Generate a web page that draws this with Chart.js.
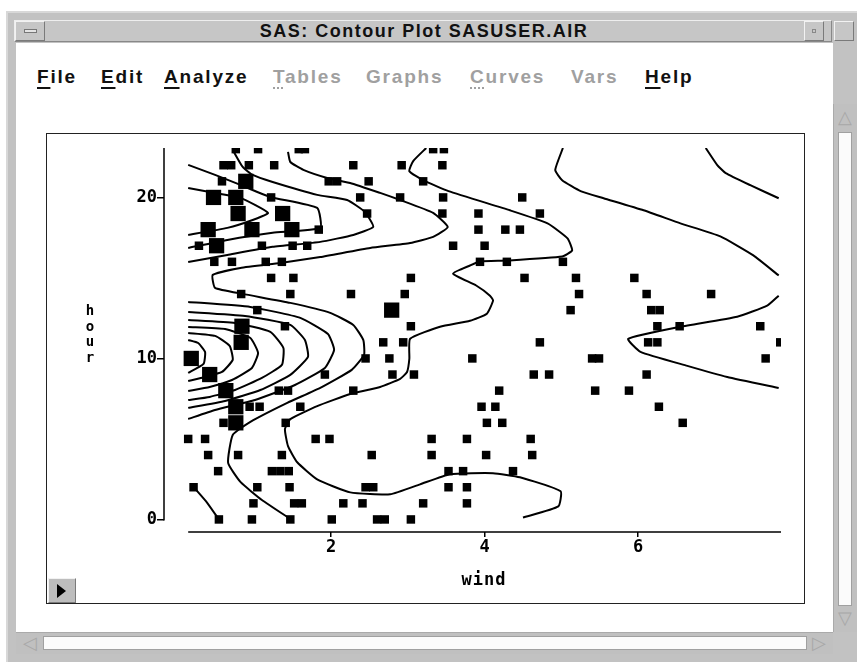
<!DOCTYPE html>
<html>
<head>
<meta charset="utf-8">
<script src="https://cdn.jsdelivr.net/npm/chart.js@4.4.1/dist/chart.umd.min.js"></script>
<style>
  body { margin: 0; width: 857px; height: 662px; position: relative; overflow: hidden; background: #fff;
         font-family: "Liberation Sans", Arial, sans-serif; }
  .abs { position: absolute; box-sizing: border-box; }
  #frame { left: 6px; top: 11px; width: 851px; height: 651px; background: #c2c2c2; border-top: 2px solid #d8d8d8; border-left: 2px solid #d8d8d8; }
  #titlebar { left: 14px; top: 20px; width: 818px; height: 22px; background: #c6c6c6;
              border-top: 1px solid #eee; border-left: 1px solid #eee; border-bottom: 1px solid #888; border-right: 1px solid #888; }
  #title { left: 46px; top: 21px; width: 756px; height: 20px; text-align: center; font-size: 18px; font-weight: bold;
           line-height: 20px; color: #111; letter-spacing: 1.5px; }
  .btn { background: #c6c6c6; border-top: 1px solid #f2f2f2; border-left: 1px solid #f2f2f2; border-bottom: 1px solid #7a7a7a; border-right: 1px solid #7a7a7a; }
  #client { left: 16px; top: 43px; width: 817px; height: 589px; background: #fff; }
  .menu { top: 66px; font-size: 19px; font-weight: bold; line-height: 22px; color: #111; letter-spacing: 1.8px; }
  .menu.off { color: #a0a0a0; }
  .menu u { text-decoration-thickness: 2px; text-underline-offset: 4px; }
  .menu.off u { text-decoration-style: dotted; }
  #plotframe { left: 46px; top: 133px; width: 759px; height: 471px; border: 1px solid #222; background: #fff; }
  #chart { left: 47px; top: 134px; }
  .axt { font-family: "DejaVu Sans Mono", monospace; font-weight: bold; color: #000; text-align: center; }
  .arrow { color: #a8a8a8; font-size: 18px; line-height: 20px; text-align: center; }
</style>
</head>
<body>
<div class="abs" id="frame"></div>
<div class="abs" id="titlebar"></div>
<div class="abs btn" style="left:15px;top:21px;width:30px;height:20px;"></div>
<div class="abs" style="left:24px;top:29px;width:13px;height:4px;border:1px solid #777;background:#e4e4e4;"></div>
<div class="abs" id="title">SAS: Contour Plot SASUSER.AIR</div>
<div class="abs btn" style="left:804px;top:21px;width:20px;height:20px;"></div>
<div class="abs" style="left:812px;top:29px;width:4px;height:4px;border:1px solid #888;"></div>
<div class="abs btn" style="left:834px;top:21px;width:20px;height:20px;"></div>

<div class="abs" id="client"></div>
<div class="abs menu" style="left:37px;"><u>F</u>ile</div>
<div class="abs menu" style="left:101px;"><u>E</u>dit</div>
<div class="abs menu" style="left:164px;"><u>A</u>nalyze</div>
<div class="abs menu off" style="left:273px;"><u>T</u>ables</div>
<div class="abs menu off" style="left:366px;">Graphs</div>
<div class="abs menu off" style="left:470px;"><u>C</u>urves</div>
<div class="abs menu off" style="left:571px;">Vars</div>
<div class="abs menu" style="left:645px;"><u>H</u>elp</div>

<!-- vertical scrollbar -->
<div class="abs" style="left:833px;top:104px;width:24px;height:528px;background:#c0c0c0;border-left:1px solid #aaa;"></div>
<div class="abs" style="left:838px;top:132px;width:14px;height:474px;background:#fbfbfb;border:1px solid #a0a0a0;"></div>
<div class="abs arrow" style="left:835px;top:107px;width:20px;">&#9651;</div>
<div class="abs arrow" style="left:835px;top:608px;width:20px;">&#9661;</div>
<!-- horizontal scrollbar -->
<div class="abs" style="left:16px;top:632px;width:817px;height:22px;background:#c0c0c0;border-top:1px solid #aaa;"></div>
<div class="abs" style="left:43px;top:636px;width:764px;height:14px;background:#fbfbfb;border:1px solid #a0a0a0;"></div>
<div class="abs arrow" style="left:20px;top:633px;width:20px;">&#9665;</div>
<div class="abs arrow" style="left:809px;top:633px;width:20px;">&#9655;</div>

<div class="abs" id="plotframe"></div>
<canvas class="abs" id="chart" width="757" height="469"></canvas>
<div class="abs btn" style="left:48px;top:578px;width:28px;height:25px;background:#bdbdbd;"></div>
<div class="abs" style="left:57px;top:584px;width:0;height:0;border-top:7px solid transparent;border-bottom:7px solid transparent;border-left:9px solid #000;"></div>

<div class="abs axt" style="left:80px;top:303px;width:20px;font-size:14px;line-height:15.5px;">h<br>o<br>u<br>r</div>
<div class="abs axt" style="left:444px;top:568px;width:80px;font-size:17px;line-height:22px;letter-spacing:1px;">wind</div>

<script>
// axis ranges and ticks
const windRange = [-0.175, 7.86];
const hourRange = [-0.78, 23.07];
const windTicks = [2, 4, 6];
const hourTicks = [0, 10, 20];

// small squares: [hour, winds]
const smallRows = [
  [23, [0.76, 1.05, 1.58, 1.66, 3.33, 3.47]],
  [22, [0.60, 0.70, 0.93, 1.26, 2.29, 2.92, 3.45]],
  [21, [0.58, 1.97, 2.08, 2.49, 3.20]],
  [20, [1.22, 2.38, 2.90, 3.46, 4.49]],
  [19, [2.47, 3.45, 3.92, 4.72]],
  [18, [1.84, 3.92, 4.27, 4.46]],
  [17, [0.28, 1.10, 1.50, 1.69, 3.59, 4.00]],
  [16, [0.48, 0.71, 1.15, 1.36, 3.94, 4.29, 5.02]],
  [15, [1.22, 1.51, 3.04, 4.52, 5.19, 5.95]],
  [14, [0.83, 1.47, 2.26, 2.96, 5.23, 6.11, 6.95]],
  [13, [1.04, 5.12, 6.17, 6.28]],
  [12, [1.40, 3.04, 6.25, 6.54, 7.59]],
  [11, [2.68, 2.94, 4.72, 6.13, 6.25, 7.85]],
  [10, [2.45, 2.76, 3.84, 5.40, 5.49, 7.66]],
  [9, [1.92, 2.80, 3.08, 4.64, 4.84, 6.11]],
  [8, [1.32, 1.44, 2.29, 4.19, 5.44, 5.88]],
  [7, [0.94, 1.07, 1.60, 3.96, 4.14, 6.27]],
  [6, [0.60, 1.41, 4.03, 4.23, 6.58]],
  [5, [0.14, 0.36, 1.80, 1.98, 3.31, 3.77, 4.60]],
  [4, [0.40, 0.79, 1.36, 2.53, 3.31, 4.02, 4.62]],
  [3, [0.53, 1.23, 1.34, 1.45, 3.53, 3.72, 4.37]],
  [2, [0.21, 1.04, 1.46, 2.45, 2.55, 3.53, 3.77]],
  [1, [0.99, 1.52, 1.62, 2.16, 2.41, 3.20, 3.77]],
  [0, [0.54, 0.97, 1.47, 2.01, 2.60, 2.70, 3.04]]
];

// big squares: [hour, winds]
const bigRows = [
  [21, [0.89]],
  [20, [0.47, 0.76]],
  [19, [0.79, 1.37]],
  [18, [0.40, 0.97, 1.49]],
  [17, [0.51]],
  [13, [2.79]],
  [12, [0.84]],
  [11, [0.83]],
  [10, [0.18]],
  [9, [0.42]],
  [8, [0.63]],
  [7, [0.76]],
  [6, [0.76]]
];

// contour lines [wind, hour]
const lineA = [[1.44,22.83],[1.47,22.20],[1.64,21.71],[1.95,21.21],[2.25,20.90],[2.64,20.28],[2.90,19.84],[3.33,19.04],[3.52,18.17],[3.33,17.55],[3.03,17.17],[2.51,16.86],[1.86,16.30],[1.34,15.93],[0.82,15.62],[0.46,15.19],[0.49,14.38],[0.85,14.01],[1.47,13.45],[1.99,12.83],[2.29,12.08],[2.42,11.15],[2.43,10.22],[2.27,9.29],[1.86,8.17],[1.43,7.24],[0.95,6.06],[0.72,5.25],[0.66,3.51],[0.82,2.33],[1.10,1.21],[1.48,0]];
const lineB = [[0.72,22.95],[0.85,21.89],[0.98,21.40],[1.24,20.96],[1.82,20.16],[2.21,19.84],[2.44,19.10],[2.55,18.17],[2.29,17.67],[1.86,17.24],[1.24,16.93],[0.65,16.43],[0.14,15.99]];
const lineU1 = [[0.14,22.02],[0.49,21.40],[0.82,20.78],[1.21,20.03],[1.82,19.35],[1.86,18.11],[1.24,17.80],[0.65,17.36],[0.14,16.86]];
const lineU2 = [[0.14,20.59],[0.42,20.34],[0.82,19.97],[1.18,19.04],[0.98,18.60],[0.65,18.11],[0.14,17.67]];
const lineC = [[3.24,23.07],[3.07,22.26],[3.02,21.63],[3.20,21.07],[3.53,20.39],[4.33,19.20],[4.82,18.39],[5.08,17.46],[5.14,16.71],[5.01,16.33],[4.29,16.08],[3.94,16.02],[3.81,15.77],[3.59,15.27],[3.89,14.53],[4.07,13.90],[4.11,13.59],[4.03,12.78],[3.81,12.34],[3.42,11.97],[3.03,11.22],[3.02,9.98],[2.99,9.16],[2.90,8.73],[2.64,8.23],[2.25,7.79],[1.82,7.04],[1.47,6.23],[1.40,5.61],[1.44,4.55],[1.56,3.55],[1.82,2.49],[2.25,1.68],[2.77,1.56],[3.16,2.18],[3.55,2.81],[4.11,2.87],[4.46,2.62],[4.99,1.75],[4.96,0.81],[4.50,0.12]];
const lineR1 = [[5.02,23.07],[4.92,21.70],[5.01,21.07],[5.25,20.39],[5.55,19.95],[6.07,19.20],[6.55,18.39],[7.07,17.58],[7.50,16.40],[7.83,15.15]];
const lineR2 = [[7.83,13.90],[7.68,13.28],[7.29,12.59],[6.55,11.97],[5.87,11.22],[6.03,10.41],[6.64,9.54],[7.16,8.85],[7.83,8.17]];
const lineTR = [[6.88,23.07],[7.03,22.01],[7.14,21.51],[7.46,20.76],[7.83,19.95]];
const lineN1 = [[0.14,11.15],[0.27,10.96],[0.36,10.40],[0.34,9.66],[0.14,9.10]];
const lineN2 = [[0.14,11.58],[0.49,11.40],[0.68,10.78],[0.72,9.91],[0.58,9.16],[0.36,8.85],[0.14,8.60]];
const lineN3 = [[0.14,11.96],[0.62,11.83],[0.95,11.27],[1.05,10.34],[0.97,9.41],[0.71,8.66],[0.42,8.23],[0.14,7.98]];
const lineN4 = [[0.14,12.39],[0.75,12.20],[1.21,11.65],[1.38,10.65],[1.36,9.60],[1.10,8.79],[0.75,8.04],[0.42,7.61],[0.14,7.42]];
const lineN5 = [[0.14,12.89],[0.88,12.64],[1.47,12.08],[1.66,11.15],[1.70,10.09],[1.47,8.98],[1.08,8.04],[0.62,7.36],[0.14,6.93]];
const lineN6 = [[0.14,13.51],[0.95,13.20],[1.60,12.52],[1.96,11.52],[2.04,10.53],[1.92,9.41],[1.53,8.35],[1.01,7.42],[0.49,6.80],[0.14,6.24]];
const lineLow = [[0.22,1.96],[0.39,1.02],[0.54,0]];

const contours = [lineA, lineB, lineU1, lineU2, lineC, lineR1, lineR2, lineTR,
                  lineN1, lineN2, lineN3, lineN4, lineN5, lineN6, lineLow];

const toPts = rows => rows.flatMap(([h, ws]) => ws.map(w => ({x: w, y: h})));
const allWinds = smallRows.concat(bigRows).flatMap(r => r[1]);
const windMin = Math.min(...allWinds);

const datasets = contours.map(c => ({
  type: 'scatter',
  data: c.map(([w, h]) => ({x: w, y: h})),
  showLine: true,
  borderColor: '#000',
  borderWidth: 2,
  pointRadius: 0,
  tension: 0.15,
  fill: false
}));
datasets.push({
  type: 'scatter', data: toPts(smallRows), pointStyle: 'rect',
  pointRadius: 6, pointBackgroundColor: '#000', pointBorderWidth: 0
});
datasets.push({
  type: 'scatter', data: toPts(bigRows), pointStyle: 'rect',
  pointRadius: 10.8, pointBackgroundColor: '#000', pointBorderWidth: 0
});

// y axis line from top to hour 0, x axis line from the smallest wind
const axisLines = {
  id: 'axisLines',
  afterDraw(chart) {
    const {ctx, chartArea, scales: {x, y}} = chart;
    ctx.save();
    ctx.strokeStyle = '#000';
    ctx.lineWidth = 1.5;
    ctx.beginPath();
    ctx.moveTo(chartArea.left, chartArea.top);
    ctx.lineTo(chartArea.left, y.getPixelForValue(0) + 1);
    ctx.moveTo(x.getPixelForValue(windMin), chartArea.bottom);
    ctx.lineTo(chartArea.right, chartArea.bottom);
    ctx.stroke();
    ctx.restore();
  }
};

const tickFont = {family: '"DejaVu Sans Mono", monospace', size: 17, weight: 'bold'};

new Chart(document.getElementById('chart'), {
  type: 'scatter',
  data: {datasets},
  options: {
    responsive: false,
    animation: false,
    layout: {padding: {left: 0, top: 14, right: 23, bottom: 0}},
    plugins: {legend: {display: false}, tooltip: {enabled: false}},
    scales: {
      x: {
        type: 'linear', min: windRange[0], max: windRange[1],
        afterBuildTicks: s => { s.ticks = windTicks.map(v => ({value: v})); },
        afterFit: s => { s.height = 71; },
        grid: {drawOnChartArea: false, drawTicks: true, tickLength: 5, color: '#000', lineWidth: 1.5},
        border: {display: false},
        ticks: {color: '#000', padding: 0, font: tickFont, maxRotation: 0, autoSkip: false}
      },
      y: {
        type: 'linear', min: hourRange[0], max: hourRange[1],
        afterBuildTicks: s => { s.ticks = hourTicks.map(v => ({value: v})); },
        afterFit: s => { s.width = 117; },
        grid: {drawOnChartArea: false, drawTicks: true, tickLength: 7, color: '#000', lineWidth: 1.5},
        border: {display: false},
        ticks: {color: '#000', padding: 0, font: tickFont, autoSkip: false}
      }
    }
  },
  plugins: [axisLines]
});
</script>
</body>
</html>
